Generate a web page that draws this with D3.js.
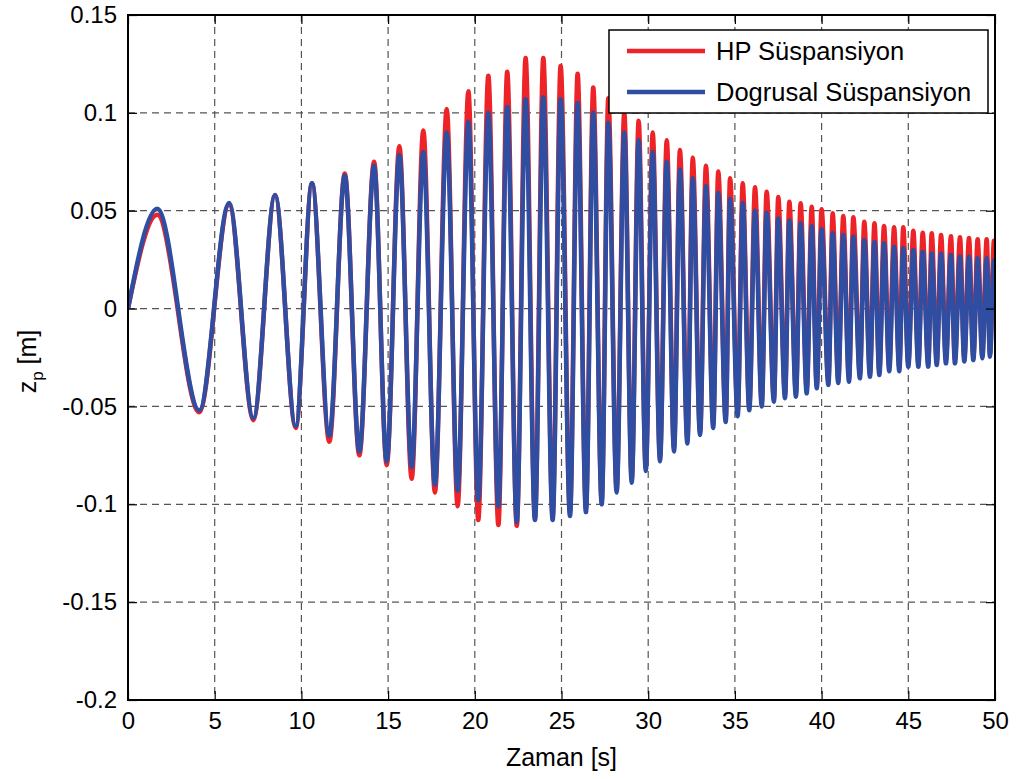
<!DOCTYPE html>
<html>
<head>
<meta charset="utf-8">
<script src="https://cdn.jsdelivr.net/npm/d3@7"></script>
<style>
  body { margin: 0; background: #fff; }
  svg { display: block; font-family: "Liberation Sans", Arial, Helvetica, sans-serif; }
</style>
</head>
<body>
<svg id="chart" width="1016" height="779"></svg>
<script>
// time of each visible extremum [s] (start, then alternating peak / trough)
const time = [0, 1.69, 4.11, 5.83, 7.23, 8.48, 9.67, 10.61, 11.61, 12.5, 13.34, 14.19, 14.92,
  15.65, 16.36, 17.03, 17.7, 18.38, 19.01, 19.63, 20.2, 20.78, 21.36, 21.87, 22.42, 22.93, 23.47,
  23.95, 24.49, 24.95, 25.49, 25.93, 26.41, 26.83, 27.32, 27.7, 28.18, 28.62, 29.05, 29.45, 29.86,
  30.26, 30.68, 31.07, 31.49, 31.83, 32.26, 32.57, 32.99, 33.33, 33.75, 34.04, 34.47, 34.72, 35.16,
  35.45, 35.83, 36.16, 36.55, 36.83, 37.25, 37.5, 37.89, 38.14, 38.52, 38.79, 39.14, 39.43, 39.72,
  40.0, 40.39, 40.64, 40.96, 41.25, 41.58, 41.83, 42.21, 42.46, 42.79, 43.05, 43.33, 43.6, 43.9,
  44.18, 44.48, 44.71, 45.0, 45.29, 45.58, 45.83, 46.15, 46.35, 46.64, 46.89, 47.17, 47.46, 47.69,
  47.98, 48.23, 48.5, 48.75, 49.0, 49.27, 49.52, 49.71, 49.94, 50];

// HP Süspansiyon z_p [m]
const hp = [0, 0.048, -0.053, 0.053, -0.057, 0.058, -0.061, 0.064, -0.068, 0.069, -0.075, 0.075, -0.080,
  0.083, -0.087, 0.091, -0.094, 0.102, -0.101, 0.111, -0.108, 0.119, -0.1106, 0.121, -0.111, 0.128, -0.107,
  0.128, -0.106, 0.124, -0.104, 0.120, -0.102, 0.113, -0.098, 0.1075, -0.092, 0.100, -0.087, 0.096, -0.081,
  0.090, -0.076, 0.086, -0.071, 0.081, -0.067, 0.077, -0.063, 0.073, -0.059, 0.070, -0.056, 0.0666, -0.053,
  0.064, -0.050, 0.062, -0.048, 0.0597, -0.046, 0.057, -0.044, 0.0546, -0.043, 0.0538, -0.041, 0.052, -0.039,
  0.0507, -0.037, 0.0487, -0.036, 0.0473, -0.0355, 0.0467, -0.034, 0.0444, -0.033, 0.0436, -0.032, 0.0422, -0.030,
  0.0415, -0.030, 0.0415, -0.028, 0.0398, -0.028, 0.0388, -0.028, 0.0385, -0.027, 0.0376, -0.026, 0.037, -0.026,
  0.0364, -0.025, 0.036, -0.0245, 0.0354, -0.024, 0.0354, -0.023, 0.0347, 0.02];

// Dogrusal Süspansiyon z_p [m]
const dogrusal = [0, 0.051, -0.052, 0.054, -0.056, 0.058, -0.060, 0.064, -0.065, 0.068, -0.073, 0.073, -0.078,
  0.0785, -0.081, 0.080, -0.090, 0.090, -0.093, 0.0955, -0.098, 0.100, -0.101, 0.103, -0.109, 0.107, -0.108,
  0.108, -0.108, 0.107, -0.106, 0.105, -0.104, 0.100, -0.100, 0.095, -0.094, 0.090, -0.089, 0.086, -0.083,
  0.080, -0.078, 0.075, -0.073, 0.071, -0.069, 0.0666, -0.0646, 0.0626, -0.061, 0.059, -0.058, 0.056, -0.055,
  0.054, -0.052, 0.050, -0.050, 0.049, -0.0476, 0.046, -0.0458, 0.045, -0.045, 0.0436, -0.0433, 0.042, -0.0407,
  0.0405, -0.039, 0.0385, -0.038, 0.0376, -0.0374, 0.0367, -0.0356, 0.035, -0.0348, 0.034, -0.034, 0.0334, -0.032,
  0.0316, -0.032, 0.0308, -0.0297, 0.0299, -0.0297, 0.029, -0.0297, 0.0282, -0.0288, 0.028, -0.028, 0.0274, -0.028,
  0.0265, -0.027, 0.0265, -0.0263, 0.0257, -0.0254, 0.0257, -0.0246, 0.0248, 0.01];

const xTicks = [0, 5, 10, 15, 20, 25, 30, 35, 40, 45, 50];
const yTicks = [-0.2, -0.15, -0.1, -0.05, 0, 0.05, 0.1, 0.15];
const seriesNames = ['HP Süspansiyon', 'Dogrusal Süspansiyon'];
const seriesColors = ['#ee2327', '#2f4ea2'];

const margin = {top: 15, right: 21, bottom: 79, left: 128};
const W = 1016, H = 779;
const width = W - margin.left - margin.right;
const height = H - margin.top - margin.bottom;

const svg = d3.select('#chart');
const g = svg.append('g').attr('transform', `translate(${margin.left},${margin.top})`);

const x = d3.scaleLinear().domain([0, 50]).range([0, width]);
const y = d3.scaleLinear().domain([-0.2, 0.15]).range([height, 0]);

// grid
g.append('g').attr('class', 'grid')
  .selectAll('line.gx')
  .data(xTicks.slice(1, -1))
  .enter().append('line')
  .attr('x1', d => x(d)).attr('x2', d => x(d))
  .attr('y1', 0).attr('y2', height);
g.append('g').attr('class', 'grid')
  .selectAll('line.gy')
  .data(yTicks.slice(1, -1))
  .enter().append('line')
  .attr('x1', 0).attr('x2', width)
  .attr('y1', d => y(d)).attr('y2', d => y(d));
g.selectAll('.grid line')
  .attr('stroke', '#555')
  .attr('stroke-width', 1.2)
  .attr('stroke-dasharray', '7,5');

// data lines
g.append('clipPath').attr('id', 'clip')
  .append('rect').attr('width', width).attr('height', height);

const line = d3.line()
  .x(d => x(d[0]))
  .y(d => y(d[1]))
  .curve(d3.curveMonotoneX);

[hp, dogrusal].forEach((vals, i) => {
  g.append('path')
    .datum(time.map((t, k) => [t, vals[k]]))
    .attr('clip-path', 'url(#clip)')
    .attr('fill', 'none')
    .attr('stroke', seriesColors[i])
    .attr('stroke-width', 4.5)
    .attr('stroke-linejoin', 'round')
    .attr('d', line);
});

// axes (ticks inward, box on)
const tickLen = 9;
const xAxis = g.append('g').attr('transform', `translate(0,${height})`)
  .call(d3.axisBottom(x).tickValues(xTicks).tickSizeInner(-tickLen).tickSizeOuter(0).tickPadding(12)
    .tickFormat(d => String(d)));
const yAxis = g.append('g')
  .call(d3.axisLeft(y).tickValues(yTicks).tickSizeInner(-tickLen).tickSizeOuter(0).tickPadding(11)
    .tickFormat(d => String(d)));
const xTop = g.append('g')
  .call(d3.axisTop(x).tickValues(xTicks).tickSizeInner(-tickLen).tickSizeOuter(0).tickFormat(''));
const yRight = g.append('g').attr('transform', `translate(${width},0)`)
  .call(d3.axisRight(y).tickValues(yTicks).tickSizeInner(-tickLen).tickSizeOuter(0).tickFormat(''));

[xAxis, yAxis, xTop, yRight].forEach(a => {
  a.select('.domain').remove();
  a.selectAll('line').attr('stroke', '#000').attr('stroke-width', 1.2);
  a.selectAll('text').attr('fill', '#000').style('font-size', '24px');
});

g.append('rect')
  .attr('width', width).attr('height', height)
  .attr('fill', 'none').attr('stroke', '#000').attr('stroke-width', 2);

// axis labels
svg.append('text')
  .attr('x', margin.left + width / 2).attr('y', 766)
  .attr('text-anchor', 'middle')
  .style('font-size', '25px')
  .text('Zaman [s]');

const yl = svg.append('text')
  .attr('transform', `translate(36,${margin.top + height / 2 + 4}) rotate(-90)`)
  .attr('text-anchor', 'middle')
  .style('font-size', '25px');
yl.append('tspan').text('z');
yl.append('tspan').attr('dy', 7).style('font-size', '17px').text('p');
yl.append('tspan').attr('dy', -7).text(' [m]');

// legend
const lg = svg.append('g').attr('transform', 'translate(609,30)');
lg.append('rect')
  .attr('width', 379).attr('height', 83)
  .attr('fill', '#fff').attr('stroke', '#000').attr('stroke-width', 1.5);
seriesNames.forEach((name, i) => {
  const yy = 21 + i * 41;
  lg.append('line')
    .attr('x1', 18).attr('x2', 96).attr('y1', yy).attr('y2', yy)
    .attr('stroke', seriesColors[i]).attr('stroke-width', 4.5);
  lg.append('text')
    .attr('x', 107).attr('y', yy + 9)
    .style('font-size', '25.5px')
    .text(name);
});
</script>
</body>
</html>
